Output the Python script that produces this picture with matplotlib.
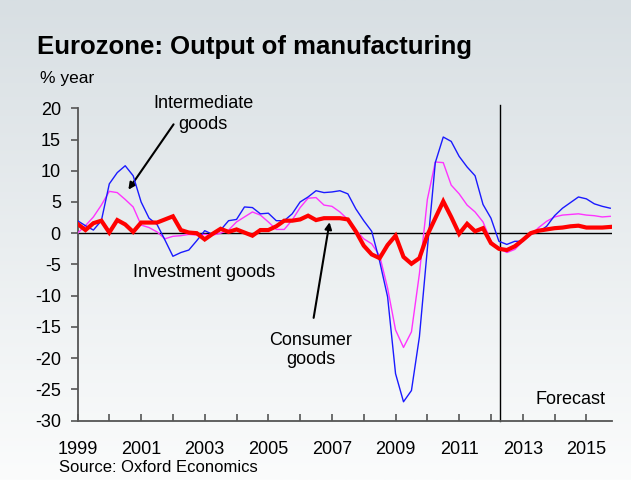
import numpy as np
import matplotlib
matplotlib.use("Agg")
import matplotlib.pyplot as plt

plt.rcParams['font.family'] = ['Liberation Sans', 'DejaVu Sans']
plt.rcParams['axes.unicode_minus'] = False

# quarterly, 1999Q1 .. 2015Q4 (% year)
start_year = 1999
investment = [2.0, 1.2, 0.5, 2.0, 7.9, 9.7, 10.8, 9.2, 5.0, 2.4, 1.4, -1.1,
              -3.7, -3.1, -2.7, -1.2, 0.4, -0.2, 0.5, 2.0, 2.2, 4.2, 4.1, 3.1,
              3.2, 2.0, 2.0, 3.1, 5.0, 5.8, 6.8, 6.5, 6.6, 6.8, 6.3, 3.9,
              2.0, 0.3, -4.5, -10.2, -22.5, -27.0, -25.2, -16.6, -2.5, 11.3, 15.4, 14.7,
              12.3, 10.6, 9.2, 4.6, 2.4, -1.3, -1.8, -1.3, -1.3, 0.0, 0.2, 1.1,
              2.8, 4.0, 4.9, 5.8, 5.5, 4.7, 4.3, 4.0]
intermediate = [0.0, 1.2, 2.6, 4.5, 6.7, 6.5, 5.4, 4.2, 1.3, 0.9, 0.2, -0.9,
                -0.5, -0.4, -0.2, -0.3, -0.2, -0.3, 0.0, 0.5, 1.8, 2.6, 3.4, 2.9,
                1.8, 0.6, 0.6, 2.1, 4.1, 5.6, 5.7, 4.5, 4.3, 3.4, 2.2, 0.5,
                -0.9, -1.7, -3.6, -8.8, -15.5, -18.3, -15.8, -6.5, 5.4, 11.4, 11.3, 7.7,
                6.3, 4.5, 3.4, 1.8, -1.3, -2.4, -3.1, -2.6, -1.3, -0.3, 0.9, 1.9,
                2.6, 2.9, 3.0, 3.1, 2.9, 2.8, 2.6, 2.7]
consumer = [1.5, 0.5, 1.6, 2.0, 0.1, 2.1, 1.4, 0.2, 1.7, 1.7, 1.7, 2.2,
            2.7, 0.5, 0.1, 0.0, -1.0, -0.1, 0.7, 0.2, 0.6, 0.1, -0.4, 0.5,
            0.5, 1.1, 2.0, 2.0, 2.2, 2.8, 2.1, 2.4, 2.4, 2.4, 2.2, 0.3,
            -2.0, -3.4, -4.0, -1.9, -0.4, -3.8, -4.9, -4.0, -0.3, 2.4, 5.1, 2.6,
            -0.1, 1.5, 0.3, 0.8, -1.6, -2.5, -2.7, -2.1, -1.1, 0.0, 0.4, 0.6,
            0.8, 0.9, 1.1, 1.2, 0.9, 0.9, 0.9, 1.0]
forecast_start = 2012.28
year_labels = list(range(1999, 2016, 2))

t = start_year + np.arange(len(consumer)) / 4.0

W, H = 631, 480
fig = plt.figure(figsize=(W / 100, H / 100), dpi=100)

# background gradient
bg = fig.add_axes([0, 0, 1, 1], zorder=-10)
grad = np.linspace(0, 1, 256).reshape(-1, 1)
top = np.array([216, 223, 227]) / 255
bot = np.array([251, 252, 252]) / 255
img = top + (bot - top) * grad[:, :, None]
bg.imshow(img, aspect='auto', extent=[0, 1, 0, 1])
bg.axis('off')

ax = fig.add_axes([77.5 / W, 1 - 420.5 / H, (611.5 - 77.5) / W, (420.5 - 108.3) / H])
ax.patch.set_alpha(0)

ax.plot(t, intermediate, color='#ff33ff', lw=1.0, zorder=3)
ax.plot(t, investment, color='#1a1aff', lw=1.0, zorder=4)
ax.plot(t, consumer, color='#ff0000', lw=3.0, zorder=5, solid_joinstyle='miter')

ax.axhline(0, color='black', lw=1.0, zorder=2)
ax.plot([forecast_start, forecast_start], [-30, 20.6], color='black', lw=1.0,
        clip_on=False, zorder=2)

ax.set_xlim(1999, 2015.79)
ax.set_ylim(-30, 20)
ax.set_yticks(range(-30, 21, 5))
ax.set_xticks(year_labels)
ax.set_xticks(range(2000, 2016, 2), minor=True)
ax.tick_params(axis='y', direction='out', length=5, width=1.2, colors='#555555',
               labelcolor='black', labelsize=13, pad=7)
ax.tick_params(axis='x', which='both', direction='in', length=5, width=1.2,
               colors='#555555', labelcolor='black', labelsize=13, pad=15)
for s in ['top', 'right']:
    ax.spines[s].set_visible(False)
for s in ['left', 'bottom']:
    ax.spines[s].set_color('#555555')
    ax.spines[s].set_linewidth(1.3)

# annotations
ax.text(2002.95, 19.1, 'Intermediate\ngoods', ha='center', va='center',
        fontsize=13, linespacing=1.25)
ax.annotate('', xy=(2000.55, 6.6), xytext=(2002.07, 17.8),
            arrowprops=dict(arrowstyle='-|>', color='black', lw=1.5,
                            mutation_scale=10))
ax.text(2002.98, -6.3, 'Investment goods', ha='center', va='center', fontsize=13)
ax.text(2006.33, -18.7, 'Consumer\ngoods', ha='center', va='center',
        fontsize=13, linespacing=1.15)
ax.annotate('', xy=(2006.94, 2.2), xytext=(2006.41, -14.0),
            arrowprops=dict(arrowstyle='-|>', color='black', lw=1.5,
                            mutation_scale=10))
ax.text(2015.6, -26.6, 'Forecast', ha='right', va='center', fontsize=13)

fig.text(37 / W, 1 - 47 / H, 'Eurozone: Output of manufacturing',
         fontsize=18.5, fontweight='bold', va='center', ha='left')
fig.text(40 / W, 1 - 78 / H, '% year', fontsize=12.5, va='center', ha='left')
fig.text(59 / W, 1 - 467 / H, 'Source: Oxford Economics', fontsize=12,
         va='center', ha='left')

fig.savefig('out.png', dpi=100)
